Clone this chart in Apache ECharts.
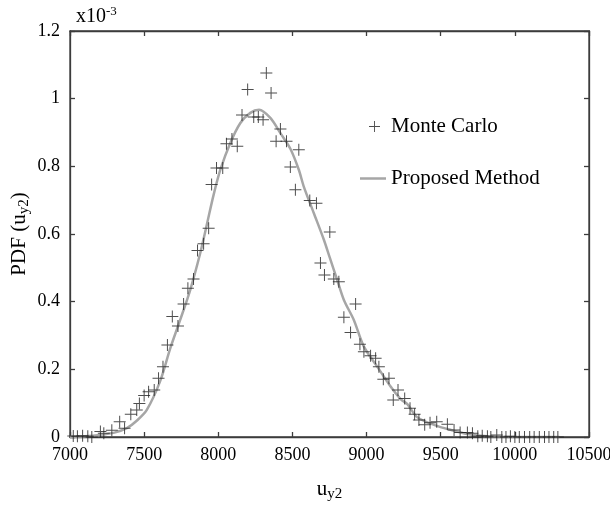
<!DOCTYPE html>
<html>
<head>
<meta charset="utf-8">
<script src="https://cdn.jsdelivr.net/npm/echarts@6/dist/echarts.min.js"></script>
<style>html,body{margin:0;padding:0;background:#fff;}#c{width:610px;height:506px;}</style>
</head>
<body>
<div id="c"></div>
<script>
// values of PDF are in units of 1e-3 (axis shows x10^-3)
var mcX = [7022,7050,7085,7120,7147,7205,7228,7282,7335,7368,7410,7450,7468,7500,7530,7568,7597,7627,7657,7690,7728,7766,7795,7833,7860,7901,7935,7955,7988,8030,8055,8092,8128,8160,8198,8239,8270,8302,8324,8356,8390,8419,8460,8486,8520,8543,8617,8662,8689,8716,8752,8779,8813,8847,8892,8926,8955,8982,9027,9061,9083,9113,9151,9180,9212,9257,9293,9324,9353,9392,9428,9473,9545,9590,9631,9680,9714,9750,9780,9815,9838,9878,9912,9940,9970,10000,10030,10065,10100,10130,10165,10200,10230,10262,10290];
var mcY = [0.003,0.002,0.004,0.002,0.0,0.016,0.011,0.020,0.045,0.026,0.067,0.080,0.099,0.123,0.134,0.139,0.174,0.208,0.272,0.356,0.328,0.393,0.440,0.467,0.551,0.571,0.617,0.746,0.795,0.795,0.867,0.881,0.859,0.952,1.027,0.946,0.946,0.938,1.076,1.017,0.874,0.910,0.874,0.798,0.731,0.849,0.699,0.691,0.514,0.479,0.606,0.467,0.459,0.354,0.309,0.393,0.274,0.252,0.240,0.233,0.208,0.171,0.174,0.109,0.139,0.114,0.085,0.067,0.050,0.036,0.042,0.045,0.038,0.021,0.013,0.013,0.011,0.002,0.004,0.002,0.0,0.006,0.0,0.0,0.002,0.0,0.0,0.0,0.0,0.0,0.0,0.0,0.0,0.0,0.0];
var pmX = [7000,7100,7200,7300,7383,7450,7518,7608,7676,7743,7811,7878,7924,7968,8014,8081,8149,8216,8275,8351,8419,8486,8543,8576,8644,8712,8752,8802,8847,8914,8982,9072,9162,9230,9275,9343,9455,9568,9680,9816,10000,10300];
var pmY = [0.0,0.002,0.006,0.013,0.026,0.048,0.080,0.165,0.262,0.346,0.435,0.543,0.630,0.715,0.790,0.869,0.928,0.958,0.967,0.943,0.898,0.852,0.790,0.741,0.662,0.583,0.530,0.464,0.405,0.346,0.267,0.208,0.149,0.112,0.097,0.058,0.036,0.021,0.009,0.002,0.0,0.0];
var xTicks = {min:7000, max:10500, step:500};
var yTicks = {min:0, max:1.2, step:0.2};

var FONT = 'Liberation Serif';
var plus = 'path://M5.5,0h1v5.5h5.5v1h-5.5v5.5h-1v-5.5h-5.5v-1h5.5z';
var bar = 'path://M0,0h26v2.5h-26z';
var chart = echarts.init(document.getElementById('c'));
var axisCommon = {
  axisLine:{show:true, onZero:false, lineStyle:{color:'#3c3c3c', width:1.3}},
  axisTick:{show:true, inside:true, length:5, lineStyle:{color:'#3c3c3c', width:1.3}},
  splitLine:{show:false}
};
var plain = function(v){ return String(v); };
var nameRich = {a:{fontFamily:FONT,fontSize:21,color:'#000'},s:{fontFamily:FONT,fontSize:15,color:'#000',padding:[10,0,0,0]}};
chart.setOption({
  animation:false,
  backgroundColor:'#fff',
  title:{text:'{a|x10}{b|-3}', left:71, top:0,
    textStyle:{fontWeight:'normal', rich:{a:{fontFamily:FONT,fontSize:20,color:'#000'},b:{fontFamily:FONT,fontSize:13,color:'#000',padding:[0,0,10,0]}}}},
  grid:{left:70, right:21, top:31, bottom:69, outerBoundsMode:'none', containLabel:false, show:true, borderColor:'#3c3c3c', borderWidth:1.3},
  legend:[
    {data:[{name:'Monte Carlo', icon:plus}], left:364, top:111, itemWidth:11, itemHeight:11,
      textStyle:{fontFamily:FONT,fontSize:21,color:'#000',padding:[0,0,0,6]}},
    {data:[{name:'Proposed Method', icon:bar}], left:355, top:163, itemWidth:26, itemHeight:2.5,
      textStyle:{fontFamily:FONT,fontSize:21,color:'#000',padding:[0,0,0,0]}}
  ],
  xAxis:[
    Object.assign({type:'value', min:xTicks.min, max:xTicks.max, interval:xTicks.step, position:'bottom',
      name:'{a|u}{s|y2}', nameLocation:'middle', nameGap:40, nameMoveOverlap:false,
      nameTextStyle:{rich:nameRich},
      axisLabel:{fontFamily:FONT,fontSize:18,color:'#000',margin:9,formatter:plain}}, axisCommon),
    Object.assign({type:'value', min:xTicks.min, max:xTicks.max, interval:xTicks.step, position:'top',
      axisLabel:{show:false}}, axisCommon)
  ],
  yAxis:[
    Object.assign({type:'value', min:yTicks.min, max:yTicks.max, interval:yTicks.step, position:'left',
      name:'{a|PDF (u}{s|y2}{a|)}', nameLocation:'middle', nameGap:38, nameMoveOverlap:false,
      nameTextStyle:{rich:nameRich},
      axisLabel:{fontFamily:FONT,fontSize:18,color:'#000',margin:10,formatter:plain}}, axisCommon),
    Object.assign({type:'value', min:yTicks.min, max:yTicks.max, interval:yTicks.step, position:'right',
      axisLabel:{show:false}}, axisCommon)
  ],
  series:[
    {name:'Proposed Method', type:'line', smooth:0.3, showSymbol:false, symbol:'none',
      data:pmX.map(function(x,i){return [x,pmY[i]];}),
      lineStyle:{color:'#a6a6a6', width:2.5}, itemStyle:{color:'#a6a6a6'}, z:2},
    {name:'Monte Carlo', type:'scatter', symbol:plus, symbolSize:12,
      data:mcX.map(function(x,i){return [x,mcY[i]];}),
      itemStyle:{color:'#222'}, z:3}
  ]
});
</script>
</body>
</html>
